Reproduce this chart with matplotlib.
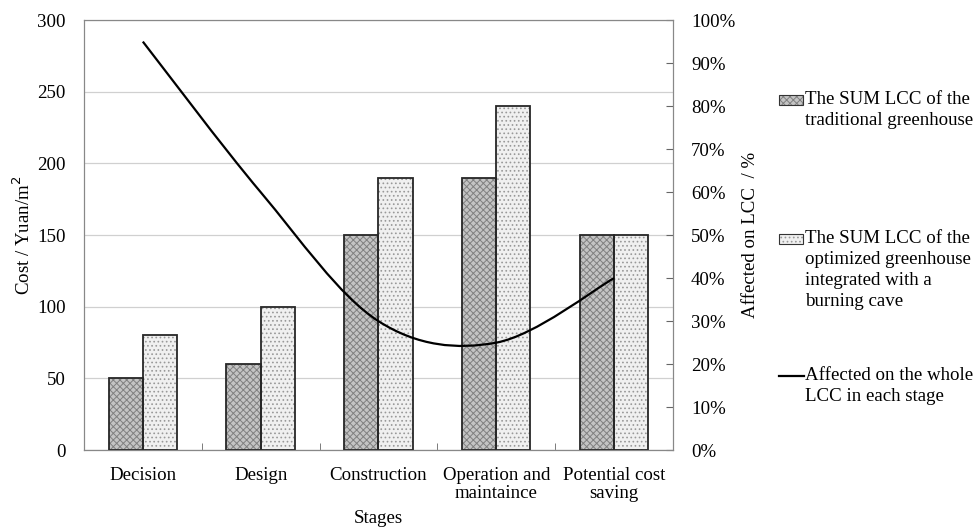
import numpy as np
import matplotlib.pyplot as plt
from matplotlib.path import Path
from matplotlib.patches import PathPatch, Rectangle
from matplotlib.lines import Line2D
from matplotlib.ticker import PercentFormatter

plt.rcParams['font.family'] = ['Liberation Serif', 'DejaVu Serif']
plt.rcParams['hatch.linewidth'] = 0.7

# === data ===
stages = ['Decision', 'Design', 'Construction', 'Operation and\nmaintaince', 'Potential cost\nsaving']
traditional = [50, 60, 150, 190, 150]
optimized = [80, 100, 190, 240, 150]
affected = [95, 60, 30, 25, 40]  # percent

lbl_trad = 'The SUM LCC of the\ntraditional greenhouse'
lbl_opt = 'The SUM LCC of the\noptimized greenhouse\nintegrated with a\nburning cave'
lbl_line = 'Affected on the whole\nLCC in each stage'

fs = 13.6
trad_style = dict(facecolor='#c4c4c4', edgecolor='#808080', hatch='xxxxx')
opt_style = dict(facecolor='#f0f0f0', edgecolor='#999999', hatch='....')

fig = plt.figure(figsize=(9.76, 5.29), dpi=100)
ax = fig.add_axes([0.086, 0.149, 0.6035, 0.813])

x = np.arange(len(stages))
w = 0.29
ax.bar(x - w / 2, traditional, w, linewidth=0, zorder=2, **trad_style)
ax.bar(x + w / 2, optimized, w, linewidth=0, zorder=2, **opt_style)
# dark outlines on top of the hatched bars
for xi, t, o in zip(x, traditional, optimized):
    ax.add_patch(Rectangle((xi - w, 0), w, t, fill=False, edgecolor='#262626', lw=1.3, zorder=3))
    ax.add_patch(Rectangle((xi, 0), w, o, fill=False, edgecolor='#262626', lw=1.3, zorder=3))

ax.set_xlim(-0.5, len(stages) - 0.5)
ax.set_ylim(0, 300)
ax.set_yticks(range(0, 301, 50))
ax.yaxis.grid(True, color='#d0d0d0', lw=0.9, zorder=0)
ax.set_axisbelow(True)
ax.tick_params(axis='y', length=0, labelsize=fs, pad=13)
ax.set_xticks(x)
ax.set_xticklabels(stages, fontsize=fs, linespacing=1.1)
ax.tick_params(axis='x', length=0, pad=12)
ax.set_xticks(np.arange(-0.5, len(stages) - 0.4, 1.0), minor=True)
ax.tick_params(axis='x', which='minor', direction='in', length=5, color='#666666')
ax.set_ylabel('Cost / Yuan/m$^2$', fontsize=fs, labelpad=2)
ax.set_xlabel('Stages', fontsize=fs, labelpad=6)
for s in ['left', 'top', 'right']:
    ax.spines[s].set_color('#888888')
ax.spines['bottom'].set_color('#555555')

ax2 = ax.twinx()
ax2.set_ylim(0, 100)
ax2.set_yticks(range(0, 101, 10))
ax2.yaxis.set_major_formatter(PercentFormatter(decimals=0))
ax2.tick_params(axis='y', direction='in', length=5, labelsize=fs, pad=13, color='#666666')
ax2.set_ylabel('Affected on LCC  / %', fontsize=fs, labelpad=5)
for s in ['left', 'top', 'right', 'bottom']:
    ax2.spines[s].set_color('#888888')

# smoothed line (Catmull-Rom style bezier through the data points)
px = x.astype(float)
py = np.array(affected, dtype=float)
verts = [(px[0], py[0])]
codes = [Path.MOVETO]
n = len(px)
for i in range(n - 1):
    p0 = np.array([px[max(i - 1, 0)], py[max(i - 1, 0)]])
    p1 = np.array([px[i], py[i]])
    p2 = np.array([px[i + 1], py[i + 1]])
    p3 = np.array([px[min(i + 2, n - 1)], py[min(i + 2, n - 1)]])
    c1 = p1 + (p2 - p0) / 6
    c2 = p2 - (p3 - p1) / 6
    verts += [tuple(c1), tuple(c2), tuple(p2)]
    codes += [Path.CURVE4] * 3
ax2.add_patch(PathPatch(Path(verts, codes), fill=False, edgecolor='black', lw=1.6, zorder=4))

# legend drawn by hand on the right
W, H = 976, 529


def fx(px_):
    return px_ / W


def fy(py_):
    return 1 - py_ / H


def legend_patch(ycenter, style):
    r = Rectangle((fx(779), fy(ycenter + 5)), fx(24), 10 / H, transform=fig.transFigure,
                  lw=0, **style)
    fig.add_artist(r)
    fig.add_artist(Rectangle((fx(779), fy(ycenter + 5)), fx(24), 10 / H, transform=fig.transFigure,
                             fill=False, edgecolor='#333333', lw=0.8))


legend_patch(100, trad_style)
fig.text(fx(805), fy(91), lbl_trad, fontsize=fs, va='top', linespacing=1.3)
legend_patch(239, opt_style)
fig.text(fx(805), fy(230), lbl_opt, fontsize=fs, va='top', linespacing=1.3)
fig.add_artist(Line2D([fx(779), fx(804)], [fy(376), fy(376)], transform=fig.transFigure,
                      color='black', lw=1.6))
fig.text(fx(805), fy(367), lbl_line, fontsize=fs, va='top', linespacing=1.3)

fig.savefig('out.png', dpi=100)
